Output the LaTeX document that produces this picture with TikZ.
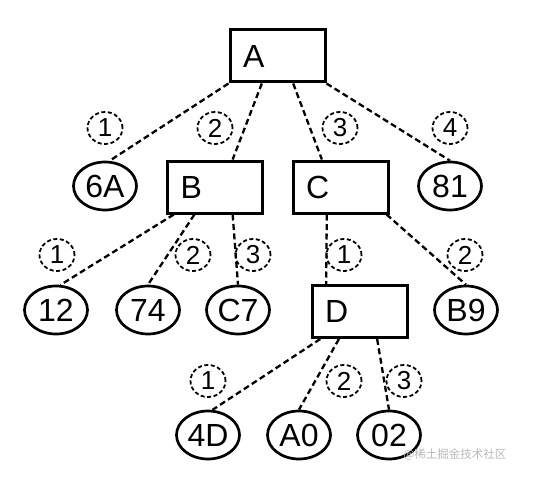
\documentclass[tikz,border=0pt]{standalone}
\usepackage{fontspec}
\setmainfont{Liberation Sans}
\newfontfamily\cjk{Noto Sans CJK SC}
\usetikzlibrary{calc,shapes.geometric}

\begin{document}
\begin{tikzpicture}[x=1pt,y=-1pt,
  keybox/.style={draw,line width=3pt,minimum width=95pt,minimum height=52pt,inner xsep=13pt,
    text width=69pt,align=left,font=\fontsize{32}{36}\selectfont},
  leaf/.style={draw,ellipse,line width=2.7pt,minimum width=63pt,minimum height=48pt,inner sep=0pt,
    font=\fontsize{32}{36}\selectfont},
  order/.style={draw,ellipse,dash pattern=on 4pt off 2.5pt,line width=1.8pt,minimum width=35pt,minimum height=32pt,inner sep=0pt,
    font=\fontsize{26}{28}\selectfont},
  link/.style={dash pattern=on 6pt off 3.5pt,line width=2.3pt}]
\useasboundingbox (0,0) rectangle (540,476);
\node[keybox] (A) at (277.5,56) {A};
\node[keybox] (B) at (215,187) {B};
\node[keybox] (C) at (340.5,187) {C};
\node[keybox] (D) at (359.5,311.5) {D};
\node[leaf] (k6A) at (105,186) {6A};
\node[leaf] (k81) at (450,186) {81};
\node[leaf] (k12) at (56,310) {12};
\node[leaf] (k74) at (148,310) {74};
\node[leaf] (kC7) at (238,310) {C7};
\node[leaf] (kB9) at (466,310) {B9};
\node[leaf] (k4D) at (208,435) {4D};
\node[leaf] (kA0) at (299,435) {A0};
\node[leaf] (k02) at (389,435) {02};
\node[order] (a1) at (105,128) {1};
\node[order] (a2) at (215,128) {2};
\node[order] (a3) at (340,128) {3};
\node[order] (a4) at (450,128) {4};
\node[order] (b1) at (57,255) {1};
\node[order] (b2) at (193,255) {2};
\node[order] (b3) at (253,255) {3};
\node[order] (c1) at (344,255) {1};
\node[order] (c2) at (465,255) {2};
\node[order] (d1) at (208,381) {1};
\node[order] (d2) at (344,381) {2};
\node[order] (d3) at (404,381) {3};
\draw[link] (A.south west) -- (k6A.80);
\draw[link] ($(A.south west)!.34!(A.south east)$) -- ($(B.north west)!.68!(B.north east)$);
\draw[link] ($(A.south west)!.66!(A.south east)$) -- ($(C.north west)!.31!(C.north east)$);
\draw[link] (A.south east) -- (k81.north);
\draw[link] ($(B.south west)!.08!(B.south east)$) -- (k12.80);
\draw[link] ($(B.south west)!.29!(B.south east)$) -- (k74.north);
\draw[link] ($(B.south west)!.68!(B.south east)$) -- (kC7.north);
\draw[link] ($(C.south west)!.36!(C.south east)$) -- ($(D.north west)!.16!(D.north east)$);
\draw[link] ($(C.south west)!.97!(C.south east)$) -- (kB9.north);
\draw[link] ($(D.south west)!.1!(D.south east)$) -- (k4D.80);
\draw[link] ($(D.south west)!.29!(D.south east)$) -- (kA0.north);
\draw[link] ($(D.south west)!.68!(D.south east)$) -- (k02.north);
\node[text=gray!55,font=\cjk\fontsize{11.5}{13}\selectfont,anchor=east] (mark) at (510,455) {@稀土掘金技术社区};
\end{tikzpicture}
\end{document}
